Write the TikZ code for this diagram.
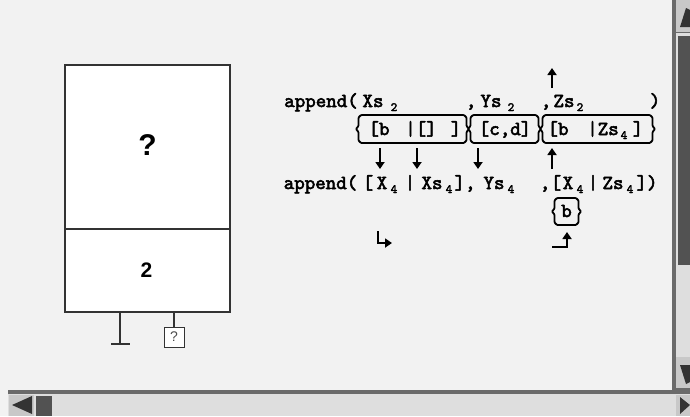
\documentclass[tikz,border=0pt]{standalone}
\usepackage{fontspec}
\newfontfamily\sansfont{Liberation Sans}
\newfontfamily\slabmono{lmmono10-regular.otf}[FakeBold=2.7]
\usetikzlibrary{arrows.meta}
\definecolor{bg}{HTML}{F2F2F2}
\definecolor{boxline}{HTML}{333333}
\definecolor{sbborder}{HTML}{6A6A6A}
\definecolor{sbtrack}{HTML}{DEDEDE}
\definecolor{sbthumb}{HTML}{525252}
\definecolor{sbarrow}{HTML}{C8C8C8}
\tikzset{
  tok/.style={inner sep=0pt, anchor=base, font=\slabmono\fontsize{20}{20}\selectfont},
  subtok/.style={inner sep=0pt, anchor=base, font=\slabmono\fontsize{12.5}{12.5}\selectfont},
  arr/.style={line width=2.3pt, -{Triangle[width=9pt,length=7pt]}},
  brbox/.style={line width=1.8pt, rounded corners=0.8pt},
  frame/.style={draw=boxline, line width=1.2pt}
}
\newcommand\brbox[4]{% x1 y1 x2 y2
  \pgfmathsetmacro\ym{(#2+#4)/2}
  \draw[brbox] (#1+4,#2) -- (#3-4,#2) -- (#3-1.5,#2+2.5) -- (#3-1.5,\ym-3) -- (#3+1,\ym) -- (#3-1.5,\ym+3) -- (#3-1.5,#4-2.5) -- (#3-4,#4) -- (#1+4,#4) -- (#1+1.5,#4-2.5) -- (#1+1.5,\ym+3) -- (#1-1,\ym) -- (#1+1.5,\ym-3) -- (#1+1.5,#2+2.5) -- cycle;}
\begin{document}
\begin{tikzpicture}[x=1pt,y=-1pt]
\useasboundingbox (0,0) rectangle (690,416);
\fill[bg] (0,0) rectangle (690,416);

% ---------- left box ----------
\draw[frame, fill=white] (65,65) rectangle (230,312);
\draw[frame] (65,229) -- (230,229);
\node[inner sep=0pt, font=\sansfont\bfseries\fontsize{30}{30}\selectfont] (q) at (147.5,145) {?};
\node[inner sep=0pt, font=\sansfont\bfseries\fontsize{21}{21}\selectfont] (two) at (146.5,270) {2};
\coordinate (ls) at (120,312);
\coordinate (le) at (120,344);
\draw[frame] (ls) -- (le);
\draw[frame] (111,344) -- (130,344);
\node[draw=boxline, line width=1pt, fill=white, minimum width=20pt, minimum height=20pt, inner sep=0pt,
      font=\sansfont\fontsize{14}{14}\selectfont, text=black!70] (qs) at (174,337) {?};
\coordinate (rs) at (174,312);
\draw[frame] (rs) -- (qs.north);

% ---------- row 1 ----------
\node[tok] (r1a) at (321,107) {append(};
\node[tok] (r1b) at (373,107) {Xs};
\node[subtok] (r1bs) at (394,111) {2};
\node[tok] (r1c) at (471,107) {,};
\node[tok] (r1d) at (491,107) {Ys};
\node[subtok] (r1ds) at (511,111) {2};
\node[tok] (r1e) at (546,107) {,};
\node[tok] (r1f) at (564,107) {Zs};
\node[subtok] (r1fs) at (580,111) {2};
\node[tok] (r1g) at (655,107) {)};
\coordinate (u1s) at (552,88);
\coordinate (u1e) at (552,68);
\draw[arr] (u1s) -- (u1e);

% ---------- boxes row ----------
\brbox{357}{115}{468}{143}
\brbox{469}{115}{540}{143}
\brbox{541}{115}{654}{143}
\node[tok] (b1a) at (379,135) {[b};
\node[tok] (b1b) at (421,135) {|[]};
\node[tok] (b1c) at (456,135) {]};
\node[tok] (b2a) at (505,135) {[c,d]};
\node[tok] (b3a) at (558,135) {[b};
\node[tok] (b3b) at (603,135) {|Zs};
\node[subtok] (b3bs) at (624,139) {4};
\node[tok] (b3c) at (638,135) {]};

% ---------- arrows row ----------
\coordinate (d1s) at (380,148); \coordinate (d1e) at (380,169);
\coordinate (d2s) at (417,148); \coordinate (d2e) at (417,169);
\coordinate (d3s) at (478,148); \coordinate (d3e) at (478,169);
\coordinate (u2s) at (552,169); \coordinate (u2e) at (552,148);
\draw[arr] (d1s) -- (d1e);
\draw[arr] (d2s) -- (d2e);
\draw[arr] (d3s) -- (d3e);
\draw[arr] (u2s) -- (u2e);

% ---------- row 4 ----------
\node[tok] (r4a) at (320.5,189) {append(};
\node[tok] (r4b) at (368,189) {[};
\node[tok] (r4c) at (382,189) {X};
\node[subtok] (r4cs) at (394,193) {4};
\node[tok] (r4d) at (410,189) {|};
\node[tok] (r4e) at (432,189) {Xs};
\node[subtok] (r4es) at (449,193) {4};
\node[tok] (r4f) at (465,189) {],};
\node[tok] (r4g) at (494,189) {Ys};
\node[subtok] (r4gs) at (511,193) {4};
\node[tok] (r4h) at (545,189) {,};
\node[tok] (r4i) at (556,189) {[};
\node[tok] (r4j) at (568,189) {X};
\node[subtok] (r4js) at (580,193) {4};
\node[tok] (r4k) at (593,189) {|};
\node[tok] (r4l) at (613,189) {Zs};
\node[subtok] (r4ls) at (630,193) {4};
\node[tok] (r4m) at (647,189) {])};

% ---------- small b box ----------
\brbox{553}{198}{580}{225}
\node[tok] (bb) at (566.5,217) {b};

% ---------- corner arrows ----------
\coordinate (c1a) at (378,231);
\coordinate (c1b) at (378,243);
\coordinate (c1c) at (392,243);
\draw[arr] (c1a) -- (c1b) -- (c1c);
\coordinate (c2a) at (552,247);
\coordinate (c2b) at (567,247);
\coordinate (c2c) at (567,232);
\draw[arr] (c2a) -- (c2b) -- (c2c);

% ---------- vertical scrollbar ----------
\fill[sbborder] (672,0) rectangle (690,392);
\fill[sbtrack] (676,33) rectangle (690,388);
\fill[sbthumb] (678,36) rectangle (690,265);
\fill[sbarrow] (676,0) rectangle (690,32);
\fill[black!80] (686,8) -- (680,27) -- (690,27) -- (690,10) -- cycle;
\fill[sbarrow] (676,357) rectangle (690,388);
\fill[black!80] (686,384) -- (680,365) -- (690,365) -- (690,382) -- cycle;

% ---------- horizontal scrollbar ----------
\fill[sbborder] (8,390) rectangle (690,394);
\fill[sbtrack] (8,394) rectangle (690,416);
\fill[sbarrow] (9,395) rectangle (34,416);
\fill[black!80] (12,405) -- (32,396) -- (32,414) -- cycle;
\fill[sbthumb] (36,396) rectangle (52,416);
\fill[sbarrow] (676,395) rectangle (690,416);
\fill[black!80] (690,405) -- (680,397) -- (680,414) -- cycle;
\end{tikzpicture}
\end{document}
